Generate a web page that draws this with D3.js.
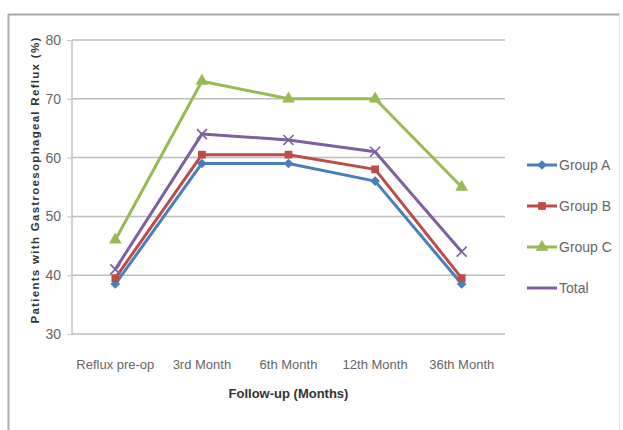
<!DOCTYPE html>
<html>
<head>
<meta charset="utf-8">
<script src="https://cdn.jsdelivr.net/npm/d3@7"></script>
<style>
  body { margin: 0; background: #fff; }
  svg { font-family: "Liberation Sans Narrow", "Liberation Sans", Arial, sans-serif; }
</style>
</head>
<body>
<div id="chart"></div>
<script>
// data
var categories = ["Reflux pre-op", "3rd Month", "6th Month", "12th Month", "36th Month"];
var groupA = [38.5, 59, 59, 56, 38.5];
var groupB = [39.5, 60.5, 60.5, 58, 39.5];
var groupC = [46, 73, 70, 70, 55];
var total = [41, 64, 63, 61, 44];
var seriesNames = ["Group A", "Group B", "Group C", "Total"];
var yTicks = [30, 40, 50, 60, 70, 80];

var series = [
    {name: seriesNames[0], values: groupA, color: "#4a7ebb", symbol: d3.symbolDiamond2},
    {name: seriesNames[1], values: groupB, color: "#be4b48", symbol: d3.symbolSquare},
    {name: seriesNames[2], values: groupC, color: "#98b954", symbol: d3.symbolTriangle},
    {name: seriesNames[3], values: total, color: "#7d60a0", symbol: "x"}
];

var W = 623, H = 430;
var margin = {top: 40, right: 118, bottom: 96, left: 72},
    width = W - margin.left - margin.right,
    height = H - margin.top - margin.bottom;

var root = d3.select("#chart").append("svg")
    .attr("width", W)
    .attr("height", H);

// outer frame
root.append("line").attr("x1", 8).attr("x2", 620).attr("y1", 14.5).attr("y2", 14.5)
    .attr("stroke", "#a8a8a8").attr("stroke-width", 2);
root.append("line").attr("x1", 8.5).attr("x2", 8.5).attr("y1", 14).attr("y2", H)
    .attr("stroke", "#b0b0b0").attr("stroke-width", 2);
root.append("line").attr("x1", 619.5).attr("x2", 619.5).attr("y1", 14).attr("y2", H)
    .attr("stroke", "#e8e8e8").attr("stroke-width", 1);

var svg = root.append("g")
    .attr("transform", "translate(" + margin.left + "," + margin.top + ")");

var x = d3.scaleBand().domain(categories).range([0, width]);
var y = d3.scaleLinear().domain([30, 80]).range([height, 0]);

// gridlines
svg.append("g")
    .selectAll("line")
    .data(yTicks)
    .enter().append("line")
    .attr("x1", 0).attr("x2", width)
    .attr("y1", function(d) { return y(d); })
    .attr("y2", function(d) { return y(d); })
    .attr("stroke", "#bdbdbd")
    .attr("stroke-width", 1.5);

// y axis line
svg.append("line").attr("x1", 0).attr("x2", 0).attr("y1", 0).attr("y2", height)
    .attr("stroke", "#c4c4c4").attr("stroke-width", 1.5);

// y axis labels
var yAxis = svg.append("g")
    .call(d3.axisLeft(y).tickValues(yTicks).tickSize(5).tickPadding(6));
yAxis.select(".domain").remove();
yAxis.selectAll("line").attr("stroke", "#c4c4c4");
yAxis.selectAll("text").attr("fill", "#666").style("font-size", "14px");

// x axis labels
var xAxis = svg.append("g")
    .attr("transform", "translate(0," + height + ")")
    .call(d3.axisBottom(x).tickSize(0).tickPadding(26));
xAxis.select(".domain").remove();
xAxis.selectAll("text").attr("fill", "#666").style("font-size", "13px");

// lines
var line = d3.line()
    .x(function(d, i) { return x(categories[i]) + x.bandwidth() / 2; })
    .y(function(d) { return y(d); });

function drawMarker(g, s, cx, cy) {
    if (s.symbol === "x") {
        g.append("path")
            .attr("d", "M" + (cx - 5) + "," + (cy - 5) + "L" + (cx + 5) + "," + (cy + 5) +
                       "M" + (cx - 5) + "," + (cy + 5) + "L" + (cx + 5) + "," + (cy - 5))
            .attr("stroke", s.color).attr("stroke-width", 1.6).attr("fill", "none");
    } else {
        g.append("path")
            .attr("d", d3.symbol().type(s.symbol).size(s.symbol === d3.symbolTriangle ? 70 : 60)())
            .attr("transform", "translate(" + cx + "," + cy + ")")
            .attr("fill", s.color);
    }
}

series.forEach(function(s) {
    svg.append("path")
        .datum(s.values)
        .attr("d", line)
        .attr("fill", "none")
        .attr("stroke", s.color)
        .attr("stroke-width", 3)
        .attr("stroke-linejoin", "round");
    s.values.forEach(function(v, i) {
        drawMarker(svg, s, x(categories[i]) + x.bandwidth() / 2, y(v));
    });
});

// legend
var legend = root.append("g").attr("transform", "translate(527,165)");
series.forEach(function(s, i) {
    var g = legend.append("g").attr("transform", "translate(0," + (i * 41) + ")");
    g.append("line").attr("x1", 0).attr("x2", 30).attr("y1", 0).attr("y2", 0)
        .attr("stroke", s.color).attr("stroke-width", 3);
    if (s.symbol !== "x") drawMarker(g, s, 15, 0);
    g.append("text").attr("x", 32).attr("y", 0).attr("dy", "0.35em")
        .attr("fill", "#666").style("font-size", "14px").text(s.name);
});

// axis titles
root.append("text")
    .attr("transform", "translate(" + (margin.left + width / 2) + "," + 398 + ")")
    .style("text-anchor", "middle")
    .style("font-size", "13px")
    .style("font-weight", "bold")
    .attr("fill", "#333")
    .text("Follow-up (Months)");

root.append("text")
    .attr("transform", "translate(39," + (margin.top + height / 2 - 7) + ") rotate(-90)")
    .style("text-anchor", "middle")
    .style("font-size", "11.5px")
    .style("letter-spacing", "1.3px")
    .style("font-weight", "bold")
    .attr("fill", "#333")
    .text("Patients with Gastroesophageal Reflux (%)");
</script>
</body>
</html>
